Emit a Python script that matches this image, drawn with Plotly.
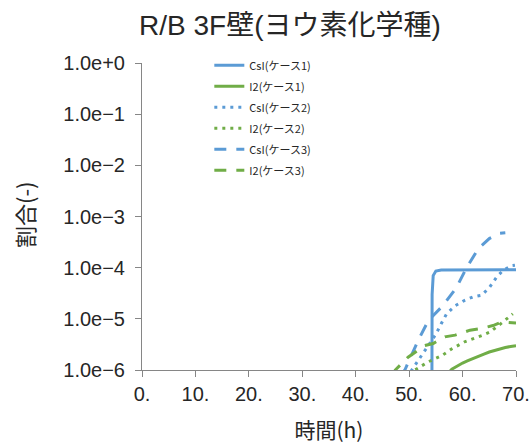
import plotly.graph_objects as go

# ---- data ----
t_csi1 = [54.2, 54.3, 54.5, 55.0, 56.0, 70.0]
v_csi1 = [1e-9, 3e-5, 7e-5, 8.6e-5, 9.0e-5, 9.1e-5]

t_i2_1 = [55, 56, 57, 58, 59, 60, 61, 62, 63, 64, 65, 66, 67, 68, 69, 70]
v_i2_1 = [5e-7, 6.5e-7, 8e-7, 1.04e-6, 1.2e-6, 1.37e-6, 1.52e-6, 1.7e-6, 1.87e-6,
          2.05e-6, 2.25e-6, 2.42e-6, 2.6e-6, 2.75e-6, 2.88e-6, 2.97e-6]

t_csi2 = [49.5, 50.5, 51.5, 53.0, 55.0, 56.0, 57.0, 58.6, 60.4, 62.0, 63.6, 65.1, 66.4, 67.6, 69.2, 69.8]
v_csi2 = [7e-7, 1e-6, 1.4e-6, 2.4e-6, 5.0e-6, 8.0e-6, 1.25e-5, 1.8e-5, 2.3e-5, 2.7e-5,
          2.9e-5, 4.2e-5, 6.6e-5, 8.9e-5, 1.1e-4, 1.12e-4]

t_i2_2 = [50.0, 51.1, 53.6, 56.1, 58.0, 60.5, 63.8, 65.1, 67.0, 68.3, 69.4]
v_i2_2 = [8e-7, 1e-6, 1.45e-6, 1.9e-6, 2.6e-6, 3.6e-6, 4.8e-6, 5.5e-6, 7.8e-6, 1.0e-5, 1.25e-5]

t_csi3 = [48.5, 49.2, 51.7, 53.6, 56.3, 58.8, 60.8, 63.0, 65.0, 67.0, 68.0]
v_csi3 = [8e-7, 1e-6, 3.8e-6, 9.3e-6, 1.8e-5, 4.0e-5, 1.02e-4, 2.4e-4, 3.7e-4, 4.7e-4, 4.8e-4]

t_i2_3 = [47.0, 47.4, 49.8, 52.9, 54.5, 56.7, 58.6, 61.4, 63.5, 65.7, 67.3, 70.0]
v_i2_3 = [8e-7, 1e-6, 1.78e-6, 3.0e-6, 3.3e-6, 4.45e-6, 4.8e-6, 6.0e-6, 6.5e-6, 7.4e-6, 8.7e-6, 8.3e-6]

series_names = ["CsI(ケース1)", "I2(ケース1)", "CsI(ケース2)", "I2(ケース2)", "CsI(ケース3)", "I2(ケース3)"]

x_tickvals = [0, 10, 20, 30, 40, 50, 60, 70]
x_ticktext = ["0.", "10.", "20.", "30.", "40.", "50.", "60.", "70."]
y_tickvals = [1e0, 1e-1, 1e-2, 1e-3, 1e-4, 1e-5, 1e-6]
y_ticktext = ["1.0e+0", "1.0e−1", "1.0e−2", "1.0e−3", "1.0e−4", "1.0e−5", "1.0e−6"]

BLUE = "#5B9BD5"
GREEN = "#70AD47"
DOT = "3px,5px"
DASH = "12px,10px"

specs = [
    (t_csi1, v_csi1, BLUE, "solid"),
    (t_i2_1, v_i2_1, GREEN, "solid"),
    (t_csi2, v_csi2, BLUE, DOT),
    (t_i2_2, v_i2_2, GREEN, DOT),
    (t_csi3, v_csi3, BLUE, DASH),
    (t_i2_3, v_i2_3, GREEN, DASH),
]

fig = go.Figure()
for i, ((t, v, c, d), name) in enumerate(zip(specs, series_names)):
    fig.add_trace(go.Scatter(
        x=t, y=v, mode="lines", name=name, legendgroup=f"g{i}",
        line=dict(color=c, width=3, dash=d),
    ))

axis_col = "#868686"
txt_col = "#262626"
fig.update_layout(
    width=531, height=444,
    margin=dict(l=142, r=15, t=63, b=74, autoexpand=False),
    plot_bgcolor="white", paper_bgcolor="white",
    font=dict(family="Liberation Sans, Noto Sans CJK JP, sans-serif", color=txt_col),
    title=dict(text="R/B 3F壁(ヨウ素化学種)", x=0.546, xref="container", xanchor="center",
               y=0.944, yref="container", yanchor="middle",
               font=dict(size=28, family="Liberation Sans, Noto Sans CJK JP", color=txt_col)),
    showlegend=True,
    legend=dict(x=0.18, xanchor="left", y=1.04, yanchor="top",
                bgcolor="rgba(0,0,0,0)", tracegroupgap=2,
                font=dict(size=11, family="Noto Sans CJK JP", color=txt_col)),
    xaxis=dict(range=[0, 70], tickvals=x_tickvals, ticktext=x_ticktext,
               showline=True, linecolor=axis_col, linewidth=1,
               ticks="outside", ticklen=6, tickcolor=axis_col,
               showgrid=False, zeroline=False, automargin=False,
               tickfont=dict(size=20, color=txt_col),
               title=dict(text="時間(h)", font=dict(size=21, family="Noto Sans CJK JP"), standoff=20)),
    yaxis=dict(type="log", range=[-6, 0], tickvals=y_tickvals, ticktext=y_ticktext,
               showline=True, linecolor=axis_col, linewidth=1,
               ticks="outside", ticklen=6, tickcolor=axis_col,
               showgrid=False, zeroline=False, ticklabelstandoff=6, automargin=False,
               tickfont=dict(size=20, color=txt_col)),
    annotations=[dict(text="割合(-)", textangle=-90, xref="paper", yref="paper",
                      x=-0.3155, y=0.505, xanchor="center", yanchor="middle", showarrow=False,
                      font=dict(size=22, family="Noto Sans CJK JP", color=txt_col))],
)

fig.write_html("out.html")
